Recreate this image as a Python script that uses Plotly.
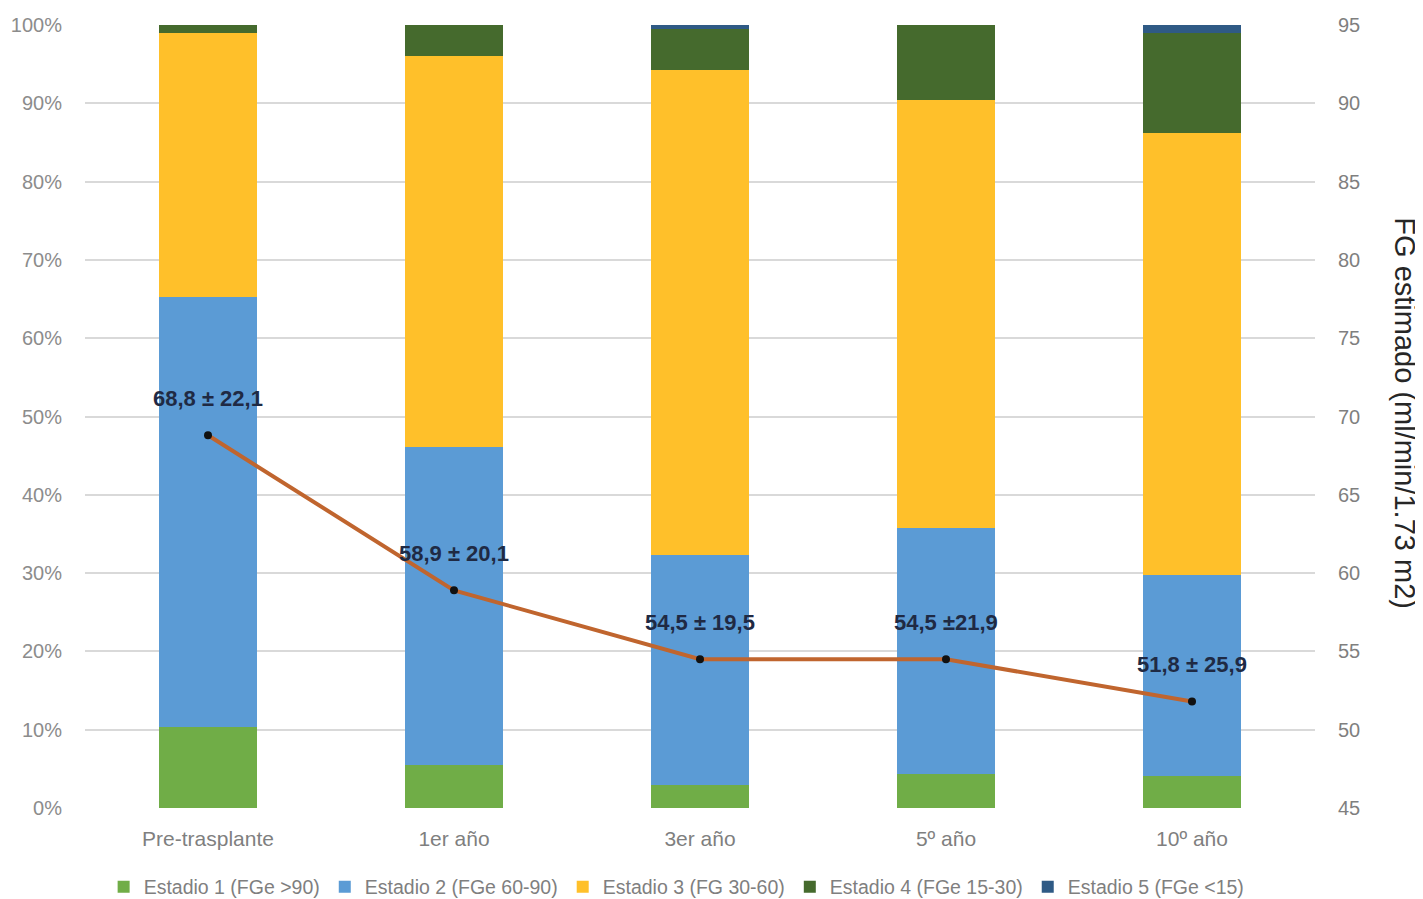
import plotly.graph_objects as go

categories = ["Pre-trasplante", "1er año", "3er año", "5º año", "10º año"]
estadio1 = [10.3, 5.5, 2.9, 4.3, 4.1]
estadio2 = [55.0, 40.6, 29.4, 31.5, 25.7]
estadio3 = [33.7, 49.9, 62.0, 54.6, 56.4]
estadio4 = [1.0, 4.0, 5.2, 9.6, 12.8]
estadio5 = [0.0, 0.0, 0.5, 0.0, 1.0]
fg_mean = [68.8, 58.9, 54.5, 54.5, 51.8]
fg_labels = ["68,8 ± 22,1", "58,9 ± 20,1", "54,5 ± 19,5", "54,5 ±21,9", "51,8 ± 25,9"]

series_names = ["Estadio 1 (FGe >90)", "Estadio 2 (FGe 60-90)", "Estadio 3 (FG 30-60)",
                "Estadio 4 (FGe 15-30)", "Estadio 5 (FGe <15)"]
series_vals = [estadio1, estadio2, estadio3, estadio4, estadio5]
series_colors = ["#70AD47", "#5B9BD5", "#FFC02A", "#456A2D", "#2F5A85"]

FONT = "Liberation Sans, Arial, sans-serif"

fig = go.Figure()
for name, vals, col in zip(series_names, series_vals, series_colors):
    fig.add_trace(go.Bar(x=categories, y=vals, name=name, marker=dict(color=col, line=dict(width=0)),
                         yaxis="y"))

fig.add_trace(go.Scatter(x=categories, y=fg_mean, yaxis="y2", mode="lines+markers",
                         line=dict(color="#C0652E", width=4),
                         marker=dict(color="#111111", size=8),
                         showlegend=False))

for c, v, t in zip(categories, fg_mean, fg_labels):
    fig.add_annotation(x=c, y=v, yref="y2", text="<b>%s</b>" % t, showarrow=False,
                       yshift=37, font=dict(family=FONT, size=22, color="#1F2A44"))

fig.add_annotation(xref="paper", yref="paper", x=1.0732, y=0.504, xanchor="center", yanchor="middle",
                   text="FG estimado (ml/min/1.73 m2)",
                   textangle=90, showarrow=False, font=dict(family=FONT, size=29, color="#262626"))

fig.update_layout(
    barmode="stack",
    bargap=0.6,
    width=1415, height=891,
    margin=dict(l=77, r=108, t=17, b=91, autoexpand=False),
    plot_bgcolor="white", paper_bgcolor="white",
    font=dict(family=FONT, size=17, color="#7F7F7F"),
    xaxis=dict(showgrid=False, ticks="", tickfont=dict(size=21, color="#7F7F7F"), showline=False,
               ticklabelstandoff=16, automargin=False),
    yaxis=dict(range=[0, 100], dtick=10, ticksuffix="%", showgrid=True, gridcolor="#D9D9D9",
               gridwidth=1.5, zeroline=False, tickfont=dict(size=20, color="#8C8C8C"),
               ticks="", ticklabelstandoff=22, automargin=False),
    yaxis2=dict(range=[45, 95], dtick=5, overlaying="y", side="right", showgrid=False,
                zeroline=False, tickfont=dict(size=20, color="#7F7F7F"), ticks="",
                ticklabelstandoff=22, automargin=False),
    legend=dict(orientation="h", x=0.481, xanchor="center", y=-0.101, yanchor="middle",
                traceorder="normal", font=dict(size=19.5, color="#7F7F7F"), itemwidth=30),
    showlegend=True,
)

fig.write_html("out.html")
